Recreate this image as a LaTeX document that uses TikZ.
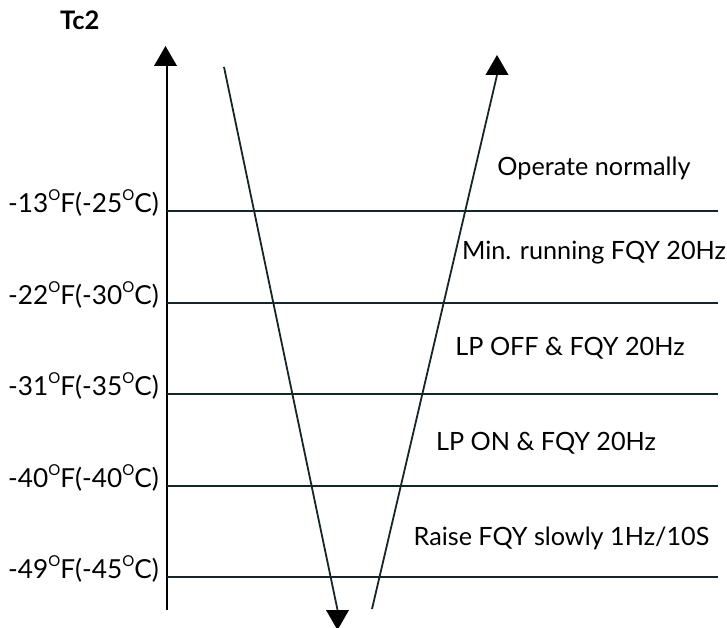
\documentclass[tikz,border=0pt]{standalone}
\usepackage{fontspec}
\setmainfont{Lato}
\usetikzlibrary{shapes.geometric}
\newcommand{\degO}{\raisebox{12pt}{\fontsize{15}{15}\selectfont O}}
\definecolor{linec}{RGB}{22,38,40}
\tikzset{
  lbl/.style={font=\fontsize{26.2}{28}\selectfont, inner sep=0pt, anchor=base east},
  zone/.style={font=\fontsize{25.2}{28}\selectfont, inner sep=0pt, anchor=base},
  hline/.style={draw=linec, line width=2pt},
  slant/.style={draw=linec, line width=1.8pt},
  head/.style={regular polygon, regular polygon sides=3, minimum size=26.6pt, inner sep=0pt, fill=black, draw=none},
}
\begin{document}
\begin{tikzpicture}[x=1pt,y=-1pt]
\useasboundingbox (0,0) rectangle (727,628);
% title
\node[font=\fontsize{25.5}{28}\selectfont\bfseries, inner sep=0pt, anchor=base west] (tc) at (60,30) {Tc2};
% axis
\node[head] (axhead) at (165.5,59.3) {};
\coordinate (axbot) at (167,610);
\draw[line width=2.2pt] (axbot) -- (axhead.south -| axbot);
% horizontal levels and labels
\foreach \name/\yy/\txt in {l1/211/{-13\degO F(-25\degO C)}, l2/303/{-22\degO F(-30\degO C)}, l3/394/{-31\degO F(-35\degO C)}, l4/486/{-40\degO F(-40\degO C)}, l5/577/{-49\degO F(-45\degO C)}}{
  \coordinate (\name a) at (167,\yy);
  \coordinate (\name b) at (718,\yy);
  \draw[hline] (\name a) -- (\name b);
  \node[lbl] (\name t) at (159,\yy+1) {\txt};
}
% descending line
\coordinate (dstart) at (224,67);
\node[head, shape border rotate=180] (dhead) at (337.5,616.7) {};
\draw[slant] (dstart) -- (dhead.north);
% ascending line
\coordinate (astart) at (372,609);
\node[head] (ahead) at (497,68.3) {};
\draw[slant] (astart) -- (ahead.south);
% zone texts
\node[zone] (z1) at (594,176) {Operate normally};
\node[zone] (z2) at (594,259) {Min. running FQY 20Hz};
\node[zone] (z3) at (570,355) {LP OFF \& FQY 20Hz};
\node[zone] (z4) at (546,450) {LP ON \& FQY 20Hz};
\node[zone] (z5) at (561.5,545) {Raise FQY slowly 1Hz/10S};
\end{tikzpicture}
\end{document}
